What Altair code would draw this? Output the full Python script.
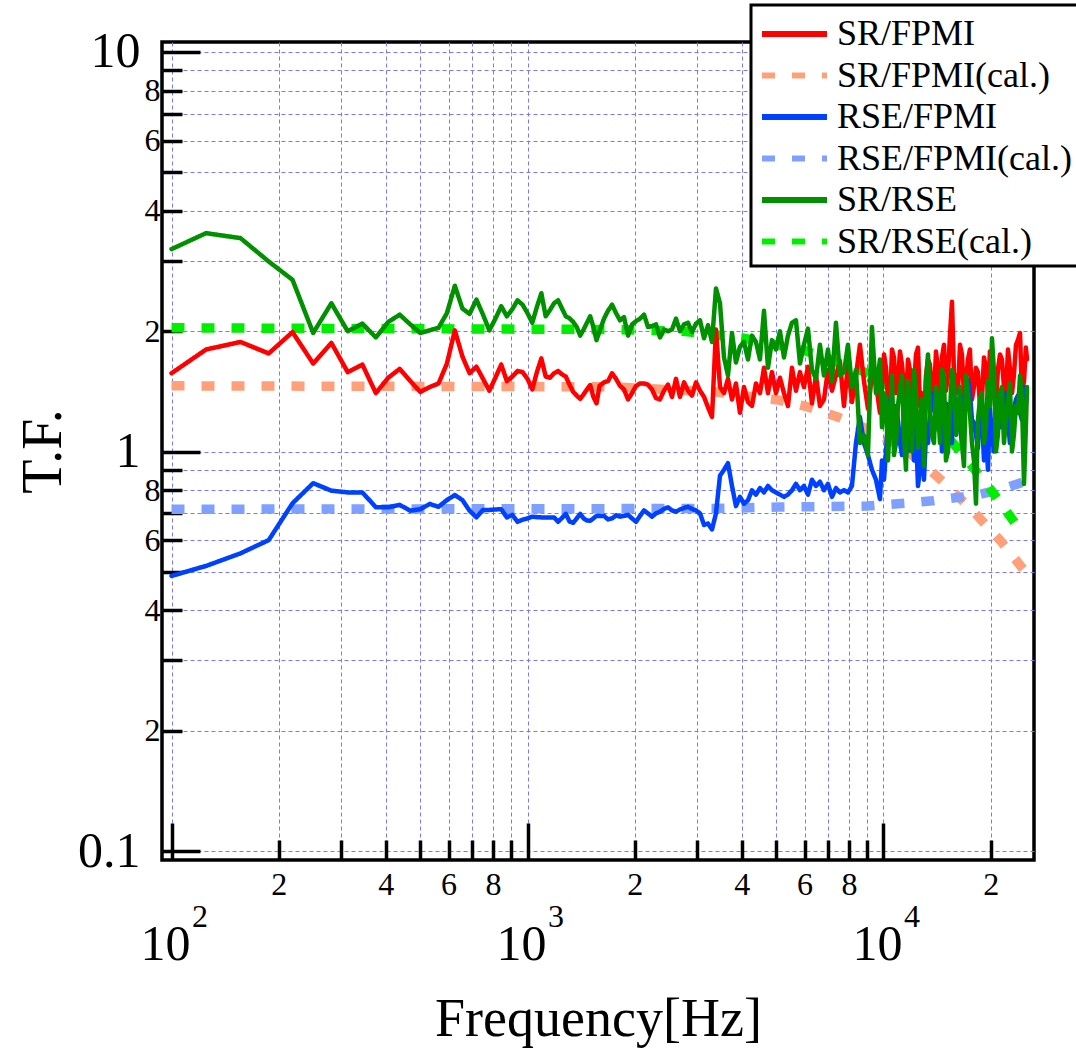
import altair as alt
import pandas as pd

SERIES = ["SR/FPMI", "SR/FPMI(cal.)", "RSE/FPMI", "RSE/FPMI(cal.)", "SR/RSE", "SR/RSE(cal.)"]
COLORS = ["#ff0000", "#ffa07a", "#0040ff", "#80a0ff", "#009000", "#00ee00"]
DASHES = [[1, 0], [13, 17], [1, 0], [13, 17], [1, 0], [13, 17]]

# measured transfer functions (shared frequency axis, Hz)
freq = [100, 125, 156.25, 187.5, 218.75, 250, 281.25, 312.5, 343.75, 375, 406.25, 437.5, 468.75, 500,
        531.25, 562.5, 593.75, 625, 656.25, 687.5, 718.75, 750, 781.25, 812.5, 843.75, 875, 906.25,
        937.5, 968.75, 1000, 1031.25, 1062.5, 1093.75, 1125, 1156.25, 1187.5, 1218.75, 1250, 1281.25,
        1312.5, 1343.75, 1375, 1406.25, 1437.5, 1468.75, 1500, 1531.25, 1562.5, 1593.75,
        1640, 1683, 1728, 1773, 1819, 1867, 1916, 1966, 2018, 2070, 2125, 2180, 2237, 2296, 2356, 2418,
        2481, 2546, 2613, 2681, 2752, 2824, 2898, 2974, 3052, 3132, 3214, 3298, 3384, 3473, 3564, 3657,
        3753, 3851, 3952, 4056, 4162, 4271, 4383, 4498, 4616, 4737, 4861, 4988, 5119, 5253, 5391, 5532,
        5677, 5826, 5978, 6135, 6296, 6461, 6630, 6804, 6982, 7165, 7353, 7545, 7743, 7946, 8154, 8368,
        8587, 8812, 9043, 9280, 9523, 9773, 10032, 10295, 10565, 10841, 11125, 11417, 11716, 12023,
        12338, 12661, 12993, 13335, 13684, 14043, 14411, 14788, 15176, 15573, 15981, 16400, 16830,
        17271, 17723, 18188, 18665, 19153, 19655, 20170, 20700, 21245, 21800, 22370, 22960, 23560,
        24180, 24810, 25300]

sr_fpmi = [1.57, 1.80, 1.88, 1.76, 1.99, 1.66, 1.87, 1.58, 1.65, 1.40, 1.53, 1.61, 1.50, 1.41,
           1.45, 1.48, 1.66, 2.01, 1.73, 1.57, 1.63, 1.52, 1.42, 1.53, 1.65, 1.50, 1.54, 1.59, 1.58,
           1.52, 1.43, 1.58, 1.71, 1.54, 1.53, 1.57, 1.59, 1.56, 1.54, 1.47, 1.41, 1.38, 1.355, 1.39,
           1.43, 1.467, 1.37, 1.32, 1.46,
           1.49, 1.50, 1.57, 1.52, 1.46, 1.43, 1.35, 1.40, 1.46, 1.48, 1.48, 1.47, 1.43, 1.36, 1.35,
           1.42, 1.47, 1.37, 1.52, 1.37, 1.49, 1.42, 1.38, 1.49, 1.42, 1.37, 1.29, 1.22, 2.02, 1.45,
           1.40, 1.52, 1.35, 1.48, 1.25,
           1.45, 1.33, 1.30, 1.48, 1.40, 1.62, 1.40, 1.58, 1.40, 1.53, 1.40, 1.30, 1.62, 1.42, 1.58,
           1.45, 1.63, 1.32, 1.55, 1.30, 1.35, 1.60, 1.42, 1.55, 1.68, 1.30, 1.65, 1.33, 1.55, 1.85,
           1.50, 1.28, 1.55, 1.48,
           1.25,
           1.75, 1.35, 1.80, 1.40, 1.78, 1.45, 1.70, 1.38, 1.75, 1.30, 1.15, 1.70, 1.42, 1.78, 1.35,
           1.85, 1.55, 2.37, 1.45, 1.85, 1.38, 1.70, 1.35, 1.62, 1.30, 1.72, 1.40, 1.68, 1.32, 1.75,
           1.45, 1.80, 1.40, 1.85, 1.98, 1.50, 1.70]

rse_fpmi = [0.488, 0.517, 0.556, 0.600, 0.742, 0.833, 0.798, 0.790, 0.790, 0.725, 0.725, 0.735,
            0.711, 0.717, 0.739, 0.727, 0.756, 0.778, 0.756, 0.711, 0.684, 0.714, 0.714, 0.716,
            0.717, 0.684, 0.694, 0.667, 0.675, 0.680, 0.687, 0.685, 0.684, 0.684, 0.684, 0.684,
            0.667, 0.682, 0.698, 0.668, 0.663, 0.680, 0.698, 0.680, 0.672, 0.671, 0.680, 0.690, 0.690,
            0.690, 0.676, 0.680, 0.692, 0.687, 0.690, 0.694, 0.680, 0.667, 0.690, 0.712, 0.700,
            0.687, 0.700, 0.707, 0.718, 0.725, 0.712, 0.707, 0.716, 0.722, 0.727, 0.718, 0.712,
            0.700, 0.655, 0.660, 0.638, 0.700, 0.870, 0.900, 0.935, 0.820, 0.730, 0.770,
            0.74, 0.755, 0.80, 0.78, 0.81, 0.79, 0.82, 0.80, 0.79, 0.78, 0.77, 0.78, 0.80, 0.83, 0.80,
            0.82, 0.78, 0.85, 0.82, 0.84, 0.80, 0.83, 0.77, 0.81, 0.79, 0.80, 0.79, 0.82, 1.05, 1.22,
            1.05, 0.98, 0.90, 0.85,
            0.76,
            0.85, 1.20, 1.10, 1.30, 1.05, 1.25, 1.00, 1.28, 1.12, 0.90, 0.85, 1.05, 1.30, 1.15, 1.35,
            1.10, 1.30, 1.05, 1.25, 1.15, 1.38, 1.51, 1.20, 1.10, 1.30, 0.95, 0.90, 1.10, 1.35, 1.15,
            1.30, 1.20, 1.10, 1.35, 1.25, 1.45, 1.40]

sr_rse = [3.21, 3.52, 3.42, 2.99, 2.69, 1.98, 2.35, 2.00, 2.09, 1.93, 2.11, 2.20, 2.08, 1.98,
          2.01, 2.04, 2.22, 2.60, 2.28, 2.21, 2.40, 2.20, 2.01, 2.15, 2.31, 2.18, 2.27, 2.39, 2.33,
          2.22, 2.10, 2.30, 2.49, 2.18, 2.26, 2.35, 2.39, 2.28, 2.18, 2.155, 2.11, 2.05, 1.95, 2.02,
          2.10, 2.18, 2.05, 1.90, 2.00,
          2.15, 2.25, 2.33, 2.22, 2.13, 2.17, 1.95, 2.08, 2.12, 2.15, 2.20, 2.05, 2.06, 2.08, 1.93,
          2.02, 2.00, 2.02, 2.15, 2.00, 2.08, 2.10, 1.99, 2.09, 2.13, 1.92, 2.07, 1.88, 2.56, 2.35,
          1.72, 1.55, 1.98, 1.67, 1.83,
          1.88, 1.70, 1.95, 1.88, 1.70, 2.25, 1.62, 1.90, 1.80, 2.00, 1.72, 1.95, 2.10, 2.13, 1.66,
          1.85, 2.03, 1.60, 1.52, 1.85, 1.55, 1.80, 1.50, 2.10, 1.55, 1.58, 1.85, 1.45, 1.60, 1.05,
          1.10, 0.98, 2.05, 1.40,
          1.70,
          1.40, 0.95, 1.55, 1.05, 1.45, 1.10, 1.50, 1.00, 1.40, 1.15, 0.92, 1.75, 1.10, 1.45, 1.05,
          1.55, 1.00, 1.60, 1.10, 1.45, 0.92, 1.40, 1.05, 0.74, 1.35, 1.05, 1.50, 1.92, 1.00, 1.40,
          1.05, 1.35, 1.00, 1.30, 1.55, 0.83, 1.45]

# extra samples in the dense region above 10 kHz (lines are drawn in frequency order)
freq_dense = [9903, 10163, 10429, 10702, 10982, 11270, 11565, 11868, 12179, 12498, 12825, 13161,
              13506, 13860, 14223, 14595, 14977, 15369, 15772, 16185, 16609, 17044, 17490, 17948,
              18418, 18900, 19395, 19903, 20424, 20959, 21508, 22071, 22649, 23242, 23851, 24475, 25116]
sr_fpmi_dense = [1.45, 1.62, 1.30, 1.72, 1.50, 1.65, 1.33, 1.60, 1.45, 1.82, 1.40, 1.55, 1.65, 1.38,
                 1.60, 1.72, 1.42, 1.95, 1.58, 1.40, 1.75, 1.50, 1.80, 1.45, 1.58, 1.35, 1.62, 1.78,
                 1.42, 1.60, 1.70, 1.38, 1.62, 1.55, 1.90, 1.40, 1.82]
rse_fpmi_dense = [0.95, 1.00, 1.35, 1.15, 1.20, 0.98, 1.30, 1.10, 0.95, 0.82, 1.20, 1.10, 1.25, 1.40,
                  1.18, 1.00, 1.32, 1.20, 1.42, 1.25, 1.05, 1.30, 1.40, 1.18, 1.02, 1.25, 1.10, 1.28,
                  1.00, 1.30, 1.22, 1.40, 1.05, 1.28, 1.38, 1.20, 1.32]
sr_rse_dense = [1.15, 1.35, 1.20, 0.98, 1.30, 1.55, 0.90, 1.25, 1.60, 1.02, 1.35, 1.50, 1.25, 1.05,
                1.30, 1.60, 0.95, 1.25, 1.48, 1.20, 1.05, 1.55, 1.25, 0.95, 1.20, 1.40, 1.15, 1.30,
                1.60, 1.10, 1.45, 1.20, 1.48, 1.10, 1.25, 1.38, 1.15]

# calculated curves
cal_sr_fpmi_freq = [100, 1705, 3363, 5054, 6097, 7403, 9161, 11270, 13510, 14690, 17730, 21240, 24660]
cal_sr_fpmi = [1.46, 1.452, 1.41, 1.346, 1.295, 1.222, 1.132, 1.028, 0.899, 0.840, 0.714, 0.600, 0.508]

cal_rse_fpmi_freq = [100, 3363, 5054, 8980, 11450, 13760, 14690, 17800, 21600, 25300]
cal_rse_fpmi = [0.717, 0.72, 0.726, 0.730, 0.742, 0.753, 0.760, 0.774, 0.806, 0.845]

cal_sr_rse_freq = [100, 1705, 2740, 4070, 6000, 8870, 11300, 13500, 15000, 17200, 20300, 23400, 24500]
cal_sr_rse = [2.04, 2.02, 2.00, 1.92, 1.79, 1.58, 1.39, 1.20, 1.10, 0.952, 0.789, 0.662, 0.62]

# axis tick values
X_GRID = [100, 200, 300, 400, 500, 600, 700, 800, 900, 1000, 2000, 3000, 4000, 5000, 6000, 7000,
          8000, 9000, 10000, 20000]
X_MAJOR = [100, 1000, 10000]
X_MINOR = [200, 300, 400, 500, 600, 700, 800, 900, 2000, 3000, 4000, 5000, 6000, 7000, 8000, 9000, 20000]
X_MINOR_LABELS = [200, 400, 600, 800, 2000, 4000, 6000, 8000, 20000]
Y_GRID = [0.1, 0.2, 0.3, 0.4, 0.5, 0.6, 0.7, 0.8, 0.9, 1, 2, 3, 4, 5, 6, 7, 8, 9, 10]
Y_MAJOR = [0.1, 1, 10]
Y_MINOR = [0.2, 0.3, 0.4, 0.5, 0.6, 0.7, 0.8, 0.9, 2, 3, 4, 5, 6, 7, 8, 9]
Y_MINOR_LABELS = [0.2, 0.4, 0.6, 0.8, 2, 4, 6, 8]


def rows(name, f, v):
    return pd.DataFrame({"f": f, "v": v, "series": name})


df = pd.concat([
    rows(SERIES[0], freq + freq_dense, sr_fpmi + sr_fpmi_dense),
    rows(SERIES[1], cal_sr_fpmi_freq, cal_sr_fpmi),
    rows(SERIES[2], freq + freq_dense, rse_fpmi + rse_fpmi_dense),
    rows(SERIES[3], cal_rse_fpmi_freq, cal_rse_fpmi),
    rows(SERIES[4], freq + freq_dense, sr_rse + sr_rse_dense),
    rows(SERIES[5], cal_sr_rse_freq, cal_sr_rse),
], ignore_index=True)

W, H = 872, 818
FONT = "Liberation Serif"
XS = alt.Scale(type="log", domain=[94.04, 26470], nice=False)
YS = alt.Scale(type="log", domain=[0.09495, 10.593], nice=False)

legend = alt.Legend(title=None, orient="none", legendX=589, legendY=-37,
                    symbolType="M-0.9,0L2.35,0", symbolSize=1600, symbolStrokeWidth=6,
                    labelFont=FONT, labelFontSize=36, labelColor="black",
                    labelOffset=34, rowPadding=0.5, padding=6, strokeColor="black",
                    fillColor="white", labelLimit=400)
COLOR = alt.Color("series:N", scale=alt.Scale(domain=SERIES, range=COLORS), legend=legend)
DASH = alt.StrokeDash("series:N", scale=alt.Scale(domain=SERIES, range=DASHES), legend=legend)

common = dict(domain=False, title=None)
GRID = dict(grid=True, gridColor="#7878ff", gridDash=[4, 3], gridWidth=1, labels=False, ticks=False)
TICK = dict(grid=False, labels=False, ticks=True, tickColor="black", tickWidth=3.5)
LAB = dict(grid=False, ticks=False, tickSize=0, labelFont=FONT, labelColor="black",
           labelOverlap=False, labelFlush=False, labelBound=False)

x_grid = alt.Axis(orient="bottom", values=X_GRID, **GRID, **common)
y_grid = alt.Axis(orient="left", values=Y_GRID, **GRID, **common)
x_tmaj = alt.Axis(orient="top", offset=-H, values=X_MAJOR, tickSize=37, **TICK, **common)
y_tmaj = alt.Axis(orient="right", offset=-W, values=Y_MAJOR, tickSize=38, **TICK, **common)
x_tmin = alt.Axis(orient="top", offset=-H, values=X_MINOR, tickSize=20, **TICK, **common)
y_tmin = alt.Axis(orient="right", offset=-W, values=Y_MINOR, tickSize=20, **TICK, **common)
x_lmin = alt.Axis(orient="bottom", values=X_MINOR_LABELS, labelFontSize=32, labelPadding=9,
                  labelExpr="format(datum.value / (datum.value < 1000 ? 100 : datum.value < 10000 ? 1000 : 10000), '.0f')",
                  domain=False, title="Frequency[Hz]", titleFont=FONT, titleFontSize=54,
                  titleFontWeight="normal", titleColor="black", titleX=W / 2, titleY=175,
                  titleAlign="center", titleBaseline="alphabetic", **LAB)
y_lmin = alt.Axis(orient="left", values=Y_MINOR_LABELS, labelFontSize=32, labelPadding=2,
                  labelExpr="format(datum.value < 1 ? datum.value * 10 : datum.value, '.0f')", **LAB, **common)
x_lmaj = alt.Axis(orient="bottom", values=X_MAJOR, labelFontSize=50, labelPadding=59, labelOffset=-6.5,
                  labelExpr="'10'", **LAB, **common)
y_lmaj = alt.Axis(orient="left", values=Y_MAJOR, labelFontSize=50, labelPadding=22,
                  labelExpr="datum.value >= 10 ? '10' : datum.value >= 1 ? '1' : '0.1'",
                  domain=False, title="T.F.", titleFont=FONT, titleFontSize=56, titleFontWeight="normal",
                  titleColor="black", titleAngle=270, titleX=-102, titleY=H / 2, titleAlign="center",
                  titleBaseline="alphabetic", **LAB)
x_sup = alt.Axis(orient="bottom", values=X_MAJOR, labelFontSize=32, labelPadding=41, labelOffset=28,
                 labelExpr="format(log(datum.value) / LN10, '.0f')", **LAB, **common)


def layer(name, xaxis, yaxis, width, cap):
    return alt.Chart().transform_filter(alt.datum.series == name).mark_line(
        strokeWidth=width, strokeCap=cap, strokeJoin="round"
    ).encode(
        x=alt.X("f:Q", scale=XS, axis=xaxis),
        y=alt.Y("v:Q", scale=YS, axis=yaxis),
        color=COLOR, strokeDash=DASH,
    )


chart = alt.layer(
    layer(SERIES[1], x_grid, y_grid, 9.5, "butt"),
    layer(SERIES[3], x_tmaj, y_tmaj, 9.5, "butt"),
    layer(SERIES[5], x_tmin, y_tmin, 9.5, "butt"),
    layer(SERIES[0], x_lmin, y_lmin, 4.5, "round"),
    layer(SERIES[2], x_lmaj, y_lmaj, 4.5, "round"),
    layer(SERIES[4], x_sup, None, 4.5, "round"),
    data=df,
).resolve_axis(x="independent", y="independent").properties(
    width=W, height=H,
    autosize=alt.AutoSizeParams(type="none"),
    padding={"left": 162, "top": 42, "right": 42, "bottom": 189},
    background="white",
).configure_view(stroke="black", strokeWidth=3.5).configure_legend(strokeWidth=3)

chart.save("out.html", embed_options={"renderer": "svg", "actions": False})
